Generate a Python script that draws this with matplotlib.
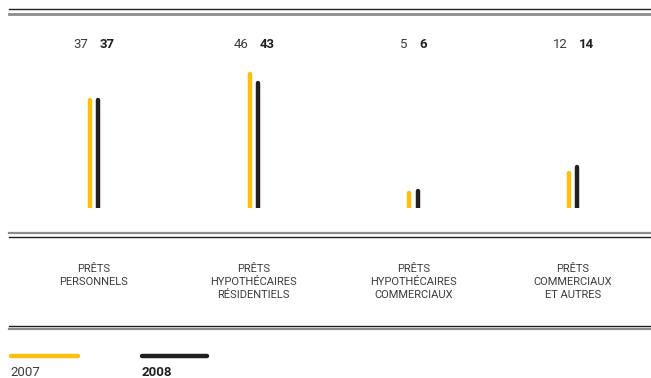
import matplotlib
matplotlib.use("Agg")
import matplotlib.pyplot as plt
from matplotlib.lines import Line2D

# loan categories and amounts for the two years
categories = ["PRÊTS\nPERSONNELS",
              "PRÊTS\nHYPOTHÉCAIRES\nRÉSIDENTIELS",
              "PRÊTS\nHYPOTHÉCAIRES\nCOMMERCIAUX",
              "PRÊTS\nCOMMERCIAUX\nET AUTRES"]
values_2007 = [37, 46, 5, 12]
values_2008 = [37, 43, 6, 14]
years = ["2007", "2008"]

YELLOW = "#FBC00F"
BLACK = "#231F20"
GREY = "#8C8C8C"
TEXT = "#3C3C3C"

plt.rcParams["font.family"] = ["Roboto", "DejaVu Sans"]

W, H = 651, 378
fig = plt.figure(figsize=(W / 100, H / 100), dpi=100)


def fy(px):
    # pixel row from the top -> figure fraction
    return 1 - px / H


def fx(px):
    return px / W


def rule(y, color, lw, x0=9, x1=651):
    fig.add_artist(Line2D([fx(x0), fx(x1)], [fy(y), fy(y)],
                          color=color, lw=lw, transform=fig.transFigure))


# double rules
rule(9, BLACK, 1.0)
rule(13.5, GREY, 2.0)
rule(233, GREY, 1.6)
rule(237, BLACK, 1.0)
rule(325.5, BLACK, 1.0)
rule(329, GREY, 1.6)

# bar area: baseline at row 208, 50 units tall
px_per_unit = 2.913
top_px = 208 - 50 * px_per_unit
ax = fig.add_axes([0, fy(208), 1, (208 - top_px) / H])
step = 159.7
ax.set_xlim(-94 / step, (W - 94) / step)
ax.set_ylim(0, 50)
ax.axis("off")

off = 4.2 / step
for i, (a, b) in enumerate(zip(values_2007, values_2008)):
    ax.plot([i - off, i - off], [0, a], color=YELLOW, lw=3.2,
            solid_capstyle="round")
    ax.plot([i + off, i + off], [0, b], color=BLACK, lw=3.2,
            solid_capstyle="round")

    ax.annotate(str(a), xy=(i, fy(44)), xycoords=("data", "figure fraction"),
                xytext=(-4, 0), textcoords="offset points",
                ha="right", va="center", fontsize=9.5, color=TEXT,
                fontweight="normal", annotation_clip=False)
    ax.annotate(str(b), xy=(i, fy(44)), xycoords=("data", "figure fraction"),
                xytext=(4, 0), textcoords="offset points",
                ha="left", va="center", fontsize=9.5, color=BLACK,
                fontweight="bold", annotation_clip=False)

    ax.annotate(categories[i], xy=(i, fy(263.5)),
                xycoords=("data", "figure fraction"),
                ha="center", va="top", fontsize=8, color=TEXT,
                linespacing=1.42, annotation_clip=False)

# legend
for x0, x1, c, label, w in [(11, 78, YELLOW, years[0], "normal"),
                            (142, 207, BLACK, years[1], "bold")]:
    fig.add_artist(Line2D([fx(x0), fx(x1)], [fy(355.5), fy(355.5)],
                          color=c, lw=3.2, solid_capstyle="round",
                          transform=fig.transFigure))
    fig.text(fx(x0 - 1), fy(373), label, ha="left", va="center",
             fontsize=9.5, fontweight=w,
             color=TEXT if w == "normal" else BLACK)

fig.savefig("out.png", dpi=100)
